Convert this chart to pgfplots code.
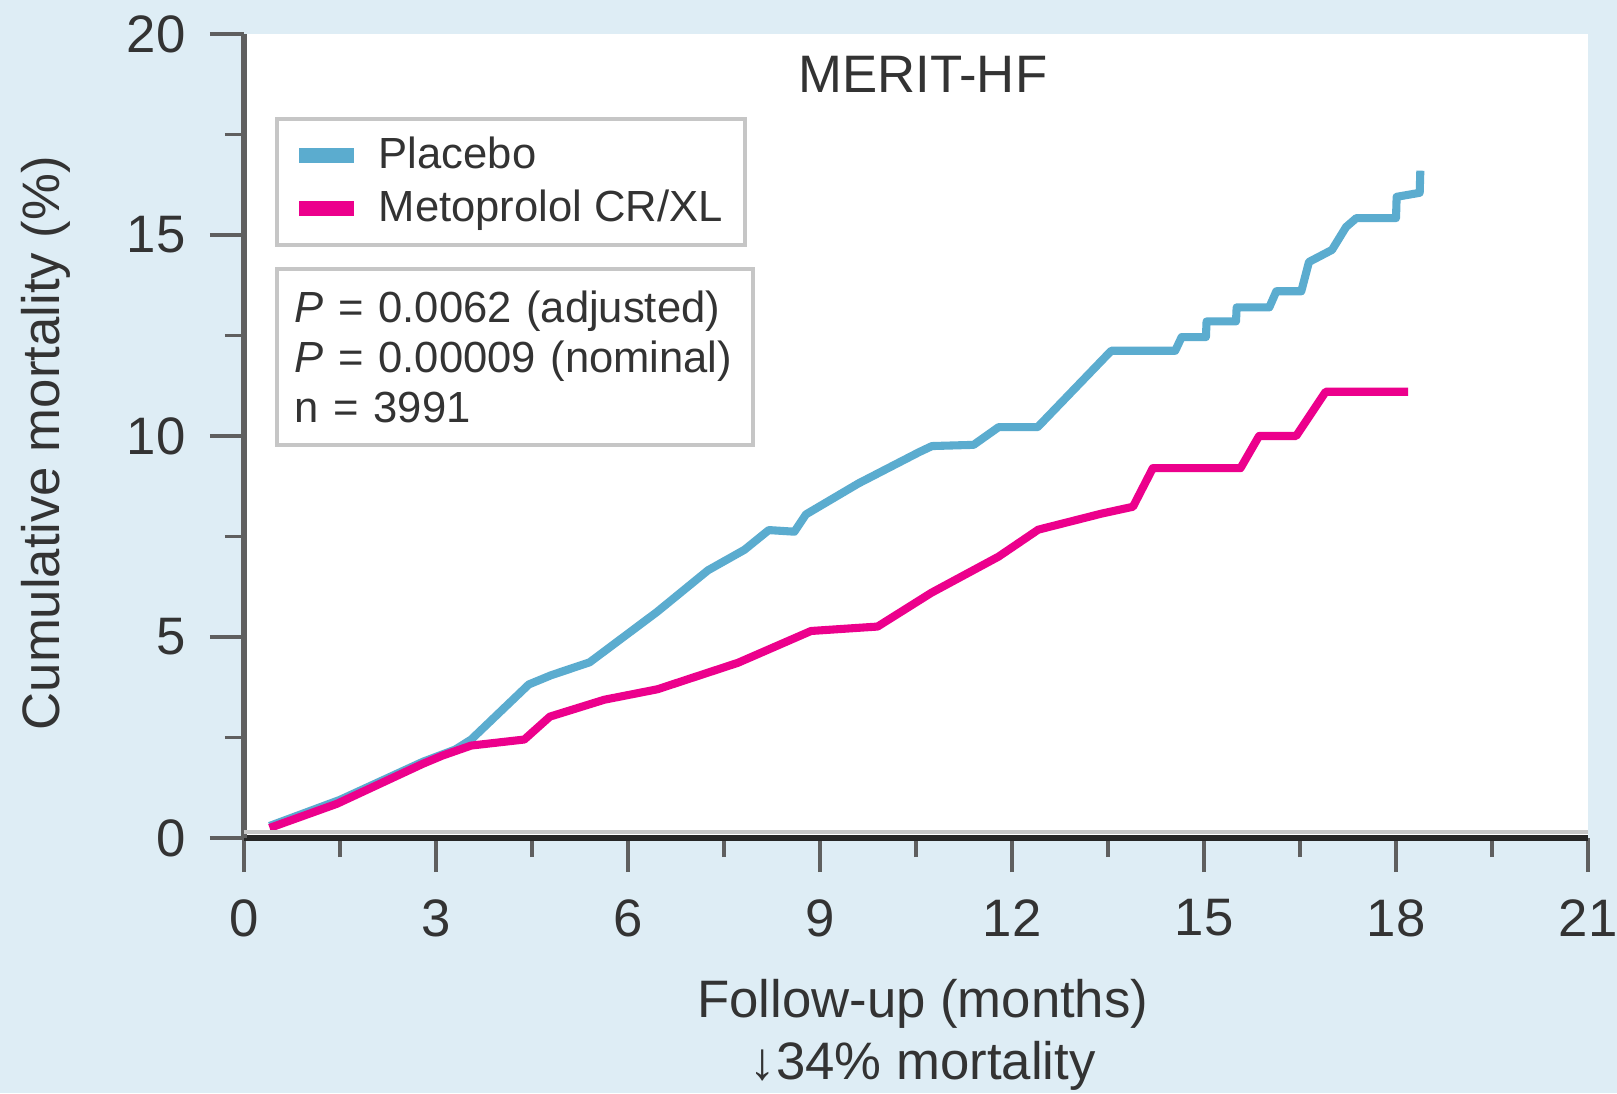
\documentclass[border=0pt]{standalone}
\usepackage{fontspec}
\setmainfont{Liberation Sans}
\usepackage{pgfplots}
\pgfplotsset{compat=1.18}
\definecolor{bgblue}{HTML}{DEEDF5}
\definecolor{placebo}{HTML}{5BACCF}
\definecolor{meto}{HTML}{EC008C}
\definecolor{legendgray}{HTML}{C6C6C6}
\definecolor{axisgray}{HTML}{5F5F5F}
\definecolor{textgray}{HTML}{333333}
\begin{document}
\begin{tikzpicture}
\fill[bgblue] (-2.44cm,-2.55cm) rectangle (13.73cm,8.38cm);
\begin{axis}[
  at={(0,0)}, anchor=south west,
  scale only axis, width=13.44cm, height=8.04cm,
  xmin=0, xmax=21, ymin=0, ymax=20,
  axis background/.style={fill=white},
  axis x line*=bottom, axis y line*=left,
  x axis line style={line width=1.5pt, color=black!85},
  y axis line style={line width=1.6pt, color=axisgray},
  xtick={0,3,...,21}, ytick={0,5,...,20},
  minor x tick num=1, minor y tick num=1,
  tick align=outside,
  major tick length=3.4mm, minor tick length=1.9mm,
  tick style={line width=0.9pt, color=axisgray},
  ticklabel style={font=\fontsize{15}{18}\selectfont, text=textgray},
  xticklabel style={yshift=-1.5mm},
  yticklabel style={xshift=-1.2mm},
  /pgf/number format/assume math mode=true,
  xlabel={Follow-up (months)\\↓34\% mortality},
  xlabel style={font=\fontsize{15}{17.6}\selectfont, align=center, at={(axis description cs:0.505,-0.245)}, anchor=center, text=textgray},
  ylabel={Cumulative mortality (\%)},
  ylabel style={font=\fontsize{15}{18}\selectfont, at={(axis description cs:-0.1473,0.491)}, anchor=center, text=textgray},
  legend style={at={(rel axis cs:0.0231,0.8968)}, anchor=north west, draw=legendgray, line width=1.1pt, fill=white, inner xsep=1.5mm, inner ysep=1.1mm, row sep=0.2mm, column sep=1.0mm, font=\fontsize{12.4}{14}\selectfont, text=textgray},
  legend cell align=left,
  legend image code/.code={\draw[#1, line width=4.2pt] (0cm,0cm) -- (0.55cm,0cm);},
]
\addplot[placebo, line width=2.3pt, line join=round] coordinates {
(0.40,0.30) (1.50,0.95) (2.80,1.90) (3.30,2.20) (3.55,2.45) (4.45,3.82)
(4.80,4.05) (5.40,4.37) (6.45,5.62) (7.25,6.66) (7.82,7.17) (8.20,7.66)
(8.60,7.62) (8.78,8.05) (9.60,8.82) (10.55,9.60) (10.75,9.75) (11.40,9.78)
(11.79,10.22) (12.40,10.22) (13.55,12.12) (14.55,12.12) (14.65,12.46)
(15.03,12.46) (15.04,12.85) (15.50,12.85) (15.51,13.20) (16.02,13.20)
(16.13,13.60) (16.52,13.60) (16.64,14.33) (17.00,14.63) (17.22,15.20)
(17.38,15.42) (18.00,15.42) (18.01,15.95) (18.37,16.05) (18.38,16.60)
};
\addlegendentry{Placebo}
\addplot[meto, line width=2.3pt, line join=round] coordinates {
(0.40,0.25) (1.45,0.85) (2.80,1.85) (3.10,2.05) (3.55,2.30) (4.38,2.45)
(4.78,3.02) (5.63,3.44) (6.46,3.70) (7.72,4.36) (8.86,5.15) (9.90,5.26)
(10.74,6.10) (11.79,7.00) (12.41,7.67) (13.40,8.07) (13.89,8.24)
(14.20,9.20) (15.57,9.20) (15.86,10.00) (16.44,10.00) (16.90,11.10)
(18.19,11.10)
};
\addlegendentry{Metoprolol CR/XL}
\draw[legendgray, line width=1.3pt, transform canvas={yshift=0.6mm}] (rel axis cs:0,0) -- (rel axis cs:1,0);
\node[font=\fontsize{15}{18}\selectfont, text=textgray] at (rel axis cs:0.505,0.950) {MERIT-HF};
\node[draw=legendgray, line width=1.1pt, fill=white, anchor=north west, align=left,
  text width=4.40cm, inner xsep=1.8mm, minimum height=1.76cm,
  font=\fontsize{12.4}{14.2}\selectfont, text=textgray]
  at (rel axis cs:0.0231,0.710)
  {\textit{P} = 0.0062 (adjusted)\\\textit{P} = 0.00009 (nominal)\\n = 3991};
\end{axis}
\pgfresetboundingbox
\useasboundingbox (-2.44cm,-2.55cm) rectangle (13.73cm,8.38cm);
\end{tikzpicture}
\end{document}
